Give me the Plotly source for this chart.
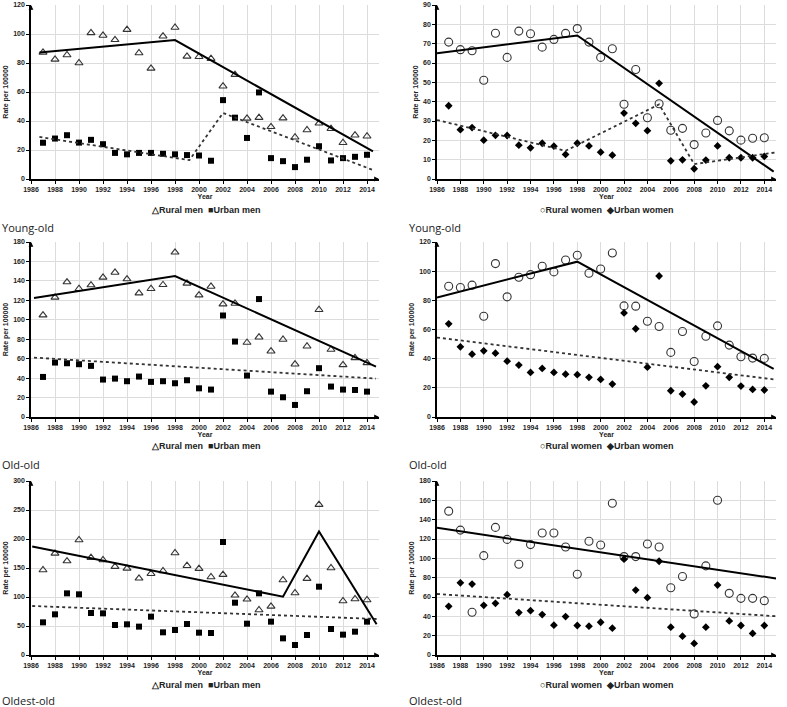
import plotly.graph_objects as go

# Data
years = list(range(1987, 2015))

yo_rural_men = [87.3, 82.5, 85.5, 80.0, 100.8, 99.0, 96.0, 103.0, 86.9, 76.3, 98.5, 104.5, 84.6, 84.3,
                83.0, 64.0, 72.0, 41.8, 42.3, 36.0, 42.0, 28.8, 33.8, 38.4, 34.7, 25.0, 30.2, 29.5]
yo_urban_men = [25.0, 27.9, 30.2, 25.1, 27.0, 24.0, 18.0, 17.0, 18.0, 18.0, 17.4, 17.0, 16.5, 16.2,
                12.6, 54.4, 42.3, 28.3, 59.7, 14.4, 12.3, 8.2, 13.3, 22.6, 12.8, 14.4, 15.3, 16.7]
yo_rural_women = [70.8, 66.9, 66.3, 51.1, 75.4, 62.9, 76.5, 75.1, 68.2, 72.2, 75.3, 77.8, 70.8, 62.9,
                  67.4, 38.7, 56.6, 31.7, 38.9, 25.2, 26.2, 17.8, 23.8, 30.3, 24.9, 20.1, 21.1, 21.3]
yo_urban_women = [37.9, 25.5, 26.6, 20.1, 22.6, 22.5, 17.5, 16.1, 18.5, 17.0, 12.7, 18.5, 17.1, 13.9,
                  12.3, 34.1, 28.8, 25.0, 49.5, 9.4, 9.9, 5.3, 9.8, 17.1, 11.0, 11.0, 11.0, 11.7]

oo_rural_men = [104.8, 123.0, 138.8, 131.9, 135.7, 143.6, 148.7, 141.9, 127.4, 131.9, 136.0, 169.4, 137.4, 125.4,
                134.3, 116.1, 116.8, 76.6, 82.1, 67.7, 79.7, 54.3, 72.8, 110.3, 69.4, 53.6, 60.8, 55.7]
oo_urban_men = [41.2, 56.0, 55.3, 54.3, 52.6, 38.5, 39.5, 36.8, 41.6, 36.1, 36.8, 34.7, 37.8, 29.5,
                28.2, 104.4, 77.6, 42.6, 121.3, 26.1, 20.3, 12.4, 26.5, 50.2, 31.3, 28.2, 27.8, 26.1]
oo_rural_women = [89.7, 88.8, 90.4, 69.1, 105.2, 82.4, 95.8, 97.6, 103.4, 99.5, 107.7, 110.9, 98.6, 101.5,
                  112.5, 76.2, 76.0, 65.7, 62.1, 44.3, 58.6, 38.1, 55.4, 62.5, 49.3, 41.3, 40.4, 40.2]
oo_urban_women = [63.9, 48.1, 43.1, 45.4, 43.8, 38.3, 35.6, 30.6, 33.3, 30.6, 29.4, 29.0, 27.2, 25.8,
                  22.6, 71.4, 60.5, 34.2, 96.7, 18.0, 15.7, 10.3, 21.4, 34.5, 27.2, 21.2, 18.9, 18.5]

ol_rural_men = [146.6, 175.3, 162.0, 198.3, 167.8, 163.8, 152.3, 149.4, 132.2, 140.2, 144.8, 175.9, 154.0, 148.9,
                134.5, 138.5, 102.9, 96.0, 77.6, 83.9, 129.3, 106.9, 131.6, 259.2, 150.0, 93.1, 96.6, 94.8]
ol_urban_men = [56.3, 70.1, 106.3, 104.6, 72.4, 71.8, 51.7, 52.9, 48.9, 66.1, 39.1, 43.1, 53.4, 38.5,
                37.9, 194.8, 90.2, 54.0, 106.3, 57.5, 28.7, 17.2, 34.5, 117.8, 44.8, 35.1, 40.2, 57.5]
ol_rural_women = [148.8, 129.2, 44.2, 102.8, 132.0, 119.6, 93.9, 114.2, 126.2, 126.2, 111.8, 83.6, 117.6, 113.8,
                  157.0, 101.8, 101.8, 114.8, 111.8, 69.6, 81.2, 42.5, 92.2, 160.1, 63.8, 58.6, 58.6, 56.2]
ol_urban_women = [50.4, 74.7, 73.4, 51.4, 53.5, 62.4, 43.9, 45.9, 41.8, 30.9, 39.8, 30.5, 29.8, 33.9,
                  27.8, 99.1, 67.2, 59.3, 97.0, 28.8, 19.5, 12.0, 28.8, 72.3, 35.3, 30.5, 22.3, 30.5]

# Joinpoint trend lines (start, knots, end)
yo_rural_men_trend_x = [1986.7, 1998, 2014.5]
yo_rural_men_trend_y = [87.3, 95.8, 19.0]
yo_urban_men_trend_x = [1986.7, 1999.2, 2002, 2014.5]
yo_urban_men_trend_y = [29.0, 13.0, 45.5, 6.2]
yo_rural_women_trend_x = [1986, 1998, 2014.8]
yo_rural_women_trend_y = [65.1, 74.2, 3.8]
yo_urban_women_trend_x = [1986, 1997, 2005, 2008, 2014.9]
yo_urban_women_trend_y = [30.5, 14.6, 38.6, 7.7, 13.7]

oo_rural_men_trend_x = [1986.25, 1998, 2014.75]
oo_rural_men_trend_y = [122.5, 145.0, 51.9]
oo_urban_men_trend_x = [1986.25, 2014.75]
oo_urban_men_trend_y = [61.1, 39.5]
oo_rural_women_trend_x = [1986, 1998, 2014.8]
oo_rural_women_trend_y = [82.0, 106.5, 33.0]
oo_urban_women_trend_x = [1986, 2014.8]
oo_urban_women_trend_y = [54.5, 25.8]

ol_rural_men_trend_x = [1986.1, 2007, 2010, 2014.8]
ol_rural_men_trend_y = [187.0, 100.6, 213.0, 52.9]
ol_urban_men_trend_x = [1986.1, 2014.8]
ol_urban_men_trend_y = [84.5, 62.1]
ol_rural_women_trend_x = [1986, 2015]
ol_rural_women_trend_y = [131.6, 79.2]
ol_urban_women_trend_x = [1986, 2015]
ol_urban_women_trend_y = [63.1, 40.1]

panels = [
    ("Young-old", "men", yo_rural_men, yo_urban_men,
     (yo_rural_men_trend_x, yo_rural_men_trend_y), (yo_urban_men_trend_x, yo_urban_men_trend_y), 120, 20),
    ("Young-old", "women", yo_rural_women, yo_urban_women,
     (yo_rural_women_trend_x, yo_rural_women_trend_y), (yo_urban_women_trend_x, yo_urban_women_trend_y), 90, 10),
    ("Old-old", "men", oo_rural_men, oo_urban_men,
     (oo_rural_men_trend_x, oo_rural_men_trend_y), (oo_urban_men_trend_x, oo_urban_men_trend_y), 180, 20),
    ("Old-old", "women", oo_rural_women, oo_urban_women,
     (oo_rural_women_trend_x, oo_rural_women_trend_y), (oo_urban_women_trend_x, oo_urban_women_trend_y), 120, 20),
    ("Oldest-old", "men", ol_rural_men, ol_urban_men,
     (ol_rural_men_trend_x, ol_rural_men_trend_y), (ol_urban_men_trend_x, ol_urban_men_trend_y), 300, 50),
    ("Oldest-old", "women", ol_rural_women, ol_urban_women,
     (ol_rural_women_trend_x, ol_rural_women_trend_y), (ol_urban_women_trend_x, ol_urban_women_trend_y), 180, 20),
]

W, H = 787, 707
col_px = [(31, 379), (437, 776)]
row_px = [(5, 179), (242, 417), (481, 655)]
legend_py = [210, 446, 685]
label_py = [227, 465, 700]
label_px = [0, 407]

tick_font = dict(family="Liberation Sans, Arial", size=7, color="#222", weight="bold")
legend_font = dict(family="Liberation Sans, Arial", size=9, color="#222", weight="bold")

fig = go.Figure()
layout = dict(template="none", width=W, height=H, margin=dict(l=0, r=0, t=0, b=0),
              paper_bgcolor="white", plot_bgcolor="white", showlegend=False, annotations=[])

for i, (group, sex, rural, urban, rtr, utr, ymax, dy) in enumerate(panels):
    r, c = divmod(i, 2)
    n = "" if i == 0 else str(i + 1)
    xa, ya = "x" + n, "y" + n
    if sex == "men":
        r_sym, u_sym = "triangle-up-open", "square"
        r_size, u_size = 7, 6
        legend_text = "\u25b3Rural men  \u25a0Urban men"
    else:
        r_sym, u_sym = "circle-open", "diamond"
        r_size, u_size = 8, 6
        legend_text = "\u25cbRural women  \u25c6Urban women"

    fig.add_trace(go.Scatter(x=years, y=rural, mode="markers", name="Rural " + sex,
                             marker=dict(symbol=r_sym, size=r_size, color="#333",
                                         line=dict(width=1.1, color="#333")),
                             xaxis=xa, yaxis=ya))
    fig.add_trace(go.Scatter(x=years, y=urban, mode="markers", name="Urban " + sex,
                             marker=dict(symbol=u_sym, size=u_size, color="black"),
                             xaxis=xa, yaxis=ya))
    fig.add_trace(go.Scatter(x=rtr[0], y=rtr[1], mode="lines", showlegend=False,
                             line=dict(color="black", width=2),
                             xaxis=xa, yaxis=ya, hoverinfo="skip"))
    fig.add_trace(go.Scatter(x=utr[0], y=utr[1], mode="lines", showlegend=False,
                             line=dict(color="#333", width=1.8, dash="dot"),
                             xaxis=xa, yaxis=ya, hoverinfo="skip"))

    x0, x1 = col_px[c]
    y0, y1 = row_px[r]
    layout["xaxis" + n] = dict(
        domain=[x0 / W, x1 / W], anchor=ya, range=[1986, 2015], automargin=False,
        tick0=1986, dtick=2, showgrid=True, gridcolor="#dcdcdc", gridwidth=1,
        showline=True, linecolor="black", linewidth=1.5,
        ticks="outside", ticklen=3, tickcolor="black", tickfont=tick_font,
        title=dict(text="Year", font=tick_font, standoff=2), zeroline=False)
    layout["yaxis" + n] = dict(
        domain=[1 - y1 / H, 1 - y0 / H], anchor=xa, range=[0, ymax], dtick=dy, automargin=False,
        showgrid=True, gridcolor="#dcdcdc", gridwidth=1,
        showline=True, linecolor="black", linewidth=1.5,
        ticks="outside", ticklen=3, tickcolor="black", tickfont=tick_font,
        title=dict(text="Rate per 100000", font=tick_font, standoff=4), zeroline=False)
    layout["annotations"].append(dict(
        text=legend_text, xref="paper", yref="paper", x=(x0 + x1) / 2 / W, y=1 - legend_py[r] / H,
        xanchor="center", yanchor="middle", showarrow=False, font=legend_font))
    layout["annotations"].append(dict(
        text=group, xref="paper", yref="paper", x=label_px[c] / W, y=1 - label_py[r] / H,
        xanchor="left", yanchor="middle", showarrow=False,
        font=dict(family="Open Sans, Noto Sans", size=11, color="#222")))
    # axis arrowheads
    layout["annotations"].append(dict(
        x=2015, y=0, xref=xa, yref=ya, ax=-6, ay=0, text="", showarrow=True,
        arrowhead=2, arrowsize=0.8, arrowwidth=1.2, arrowcolor="black"))
    layout["annotations"].append(dict(
        x=1986, y=ymax, xref=xa, yref=ya, ax=0, ay=6, text="", showarrow=True,
        arrowhead=2, arrowsize=0.8, arrowwidth=1.2, arrowcolor="black"))

fig.update_layout(**layout)
fig.write_html("out.html", config={"displayModeBar": False},
               post_script="document.body.style.margin='0px';")
